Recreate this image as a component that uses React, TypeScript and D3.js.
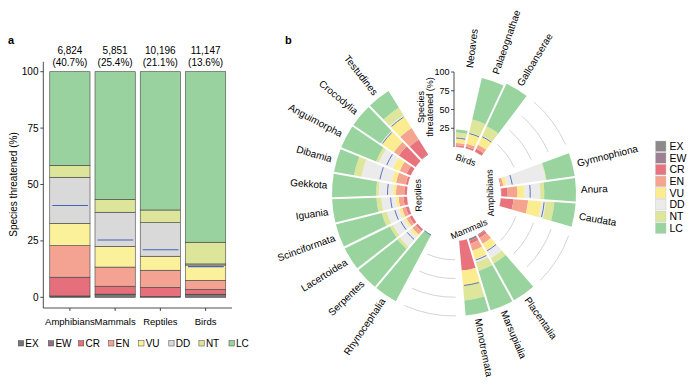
import React from 'react';
import * as d3 from 'd3';

// IUCN categories, inner/bottom first
const statuses = ['EX', 'EW', 'CR', 'EN', 'VU', 'DD', 'NT', 'LC'];
const barColors = ['#767676', '#8e6f86', '#e5707c', '#f4a393', '#fbf19b', '#d9d9d9', '#dde59a', '#99d19f'];
const ringColors = ['#8d8889', '#9d8193', '#e8737d', '#f5a58f', '#fcec90', '#ebebeb', '#dee69c', '#99d49f'];

// panel a
const classes = ['Amphibians', 'Mammals', 'Reptiles', 'Birds'];
const classTotals = ['6,824', '5,851', '10,196', '11,147'];
const classThreatLabels = ['(40.7%)', '(25.4%)', '(21.1%)', '(13.6%)'];
const classThreat = [40.7, 25.4, 21.1, 13.6];
const classShares = [
  [0.5, 0.1, 8.3, 14, 9.9, 20.4, 5.3, 41.5],
  [1.3, 0.1, 3.5, 8.5, 9.2, 15.1, 5.7, 56.6],
  [0.3, 0.05, 4.05, 7.6, 6.2, 14.9, 5.6, 61.3],
  [1.3, 0.05, 2.15, 4, 6.8, 0.5, 9.6, 75.6],
];
const yTicks = [0, 25, 50, 75, 100];

// panel b, clockwise from the axis
const groups = ['Birds', 'Amphibians', 'Mammals', 'Reptiles'];
const groupClades = [
  ['Neoaves', 'Palaeognathae', 'Galloanserae'],
  ['Gymnophiona', 'Anura', 'Caudata'],
  ['Placentalia', 'Marsupialia', 'Monotremata'],
  ['Rhynocephalia', 'Serpentes', 'Lacertoidea', 'Scinciformata', 'Iguania',
    'Gekkota', 'Dibamia', 'Anguimorpha', 'Crocodylia', 'Testudines'],
];
const birdShares = [
  [0.5, 0, 2, 3, 6.5, 1.5, 6, 4],
  [0.5, 0, 2, 4, 14, 1, 18, 57],
  [0.5, 0, 4, 6, 12, 1, 14, 62.5],
];
const amphibianShares = [
  [0, 0, 1, 3, 4.5, 52.5, 1, 38],
  [0.5, 0, 8.5, 13, 9, 21.4, 5.3, 42.3],
  [0, 0, 17, 19.6, 18, 5.4, 11.6, 28.4],
];
const mammalShares = [
  [1, 0.1, 4, 9, 10, 12, 8, 55.9],
  [3, 0, 4, 10, 12, 4, 12, 55],
  [0, 0, 40, 0, 20, 0, 20, 20],
];
const reptileShares = [
  [0, 0, 0, 0, 0, 0, 0, 100],
  [0.1, 0, 3, 6, 4, 17, 4, 65.9],
  [0.2, 0, 3.8, 4.6, 3, 17, 4.5, 66.9],
  [0.3, 0, 3.7, 5, 4, 17, 7, 63],
  [0.3, 0, 4.5, 6.5, 4, 19, 6.5, 59.2],
  [0.2, 0, 3.5, 11, 4, 19, 3.5, 58.8],
  [0, 0, 3, 13, 6, 41, 10, 27],
  [0, 0, 6, 10, 10, 20, 4, 50],
  [0, 0, 27, 8, 19, 2, 0, 44],
  [1, 0, 23, 18, 18, 2, 12, 26],
];
const birdThreat = [12, 20.5, 22.5];
const amphibianThreat = [16, 39, 58];
const mammalThreat = [25, 30, 60];
const reptileThreat = [0, 18, 17, 19, 22, 26, 38, 35, 54, 60];
const groupShares = [birdShares, amphibianShares, mammalShares, reptileShares];
const groupThreat = [birdThreat, amphibianThreat, mammalThreat, reptileThreat];
const ringTicks = [25, 50, 75, 100];

const font = 'Liberation Sans, Arial, Helvetica, sans-serif';
const rad = Math.PI / 180;

const App = () => {
  // ---- panel a scales
  const x = d3.scaleBand().domain(classes).range([47.5, 228]).paddingInner(0.11).paddingOuter(0.05);
  const y = d3.scaleLinear().domain([0, 100]).range([297.3, 71.7]);

  // ---- panel b layout
  const cx = 454, cy = 194;
  const r = d3.scaleLinear().domain([0, 100]).range([47, 122]);
  const slot = 12, gap = 33, start = 1;
  const arc = d3.arc().padAngle(0.02).padRadius(100);
  const polar = (rr, a) => [cx + rr * Math.sin(a * rad), cy - rr * Math.cos(a * rad)];

  const groupStart = [];
  let acc = start;
  groups.forEach((g, gi) => {
    groupStart.push(acc);
    acc += groupClades[gi].length * slot + gap;
  });

  const ringBars = [];
  groups.forEach((g, gi) => {
    groupClades[gi].forEach((name, i) => {
      const a0 = groupStart[gi] + i * slot;
      ringBars.push({ name, a0, a1: a0 + slot, shares: groupShares[gi][i], threat: groupThreat[gi][i] });
    });
  });

  const arcLine = (rr, a0, a1) => {
    const p = d3.path();
    p.arc(cx, cy, rr, (a0 - 90) * rad, (a1 - 90) * rad);
    return p.toString();
  };

  return (
    <svg width={700} height={386} style={{ position: 'absolute', left: 0, top: 0 }} fontFamily={font}>
      <rect width={700} height={386} fill="#fff" />
      <text x={8} y={43.5} fontSize={11} fontWeight="bold">a</text>
      <text x={285} y={44} fontSize={11} fontWeight="bold">b</text>

      {/* ---------- panel a ---------- */}
      <line x1={43.3} x2={43.3} y1={y(104.4)} y2={308} stroke="#222" strokeWidth={0.8} />
      <line x1={43.3} x2={232} y1={308} y2={308} stroke="#222" strokeWidth={0.8} />
      {yTicks.map(t => (
        <g key={t}>
          <line x1={40.3} x2={43.3} y1={y(t)} y2={y(t)} stroke="#222" strokeWidth={0.8} />
          <text x={38.5} y={y(t)} dy="0.35em" fontSize={10} textAnchor="end">{t}</text>
        </g>
      ))}
      <text transform={`translate(13,${y(50)}) rotate(-90)`} fontSize={10} textAnchor="middle" dy="0.35em">
        Species threatened (%)
      </text>
      {classes.map((c, ci) => {
        let cum = 0;
        const bx = x(c);
        const bw = x.bandwidth();
        return (
          <g key={c}>
            {classShares[ci].map((v, j) => {
              const y0 = y(cum + v), y1 = y(cum);
              cum += v;
              return <rect key={j} x={bx} y={y0} width={bw} height={Math.max(0, y1 - y0)}
                fill={barColors[j]} stroke="#444" strokeWidth={0.6} />;
            })}
            <line x1={bx + 2.5} x2={bx + bw - 2} y1={y(classThreat[ci])} y2={y(classThreat[ci])}
              stroke="#4563b8" strokeWidth={1.1} />
            <line x1={bx + bw / 2} x2={bx + bw / 2} y1={308} y2={311} stroke="#222" strokeWidth={0.8} />
            <text x={bx + bw / 2} y={325} fontSize={9.5} textAnchor="middle">{c}</text>
            <text x={bx + bw / 2} y={54.3} fontSize={10} textAnchor="middle">{classTotals[ci]}</text>
            <text x={bx + bw / 2} y={65.8} fontSize={10} textAnchor="middle">{classThreatLabels[ci]}</text>
          </g>
        );
      })}
      {statuses.map((s, j) => (
        <g key={s} transform={`translate(${18.3 + j * 30.1},340.7)`}>
          <rect width={5.3} height={5.3} fill={barColors[j]} stroke="#444" strokeWidth={0.5} />
          <text x={7} y={6} fontSize={10}>{s}</text>
        </g>
      ))}

      {/* ---------- panel b ---------- */}
      {groups.slice(0, 3).map((g, gi) => {
        const g0 = groupStart[gi] + groupClades[gi].length * slot + 4;
        const g1 = groupStart[gi + 1] - 4;
        return ringTicks.map(t => (
          <path key={g + t} d={arcLine(r(t), g0, g1)} fill="none" stroke="#c9c9c9" strokeWidth={0.8} />
        ));
      })}
      {ringBars.map(b => {
        let cum = 0;
        const [lx, ly] = polar(127, b.a0 + slot / 2);
        const mid = b.a0 + slot / 2;
        const rot = mid < 180 ? mid - 90 : mid - 270;
        return (
          <g key={b.name}>
            {b.shares.map((v, j) => {
              const inner = r(cum), outer = r(cum + v);
              cum += v;
              if (v <= 0) return null;
              return <path key={j} fill={ringColors[j]}
                d={arc({ innerRadius: inner, outerRadius: outer, startAngle: b.a0 * rad, endAngle: b.a1 * rad })}
                transform={`translate(${cx},${cy})`} />;
            })}
            <path d={arcLine(r(b.threat), b.a0 + 1.3, b.a1 - 1.3)} fill="none" stroke="#4a66b8" strokeWidth={0.9} />
            <text transform={`translate(${lx},${ly}) rotate(${rot})`} fontSize={10}
              textAnchor={mid < 180 ? 'start' : 'end'} dy="0.35em">{b.name}</text>
          </g>
        );
      })}
      {groups.map((g, gi) => {
        const mid = groupStart[gi] + (groupClades[gi].length * slot) / 2;
        const [gx, gy] = polar(gi === 2 ? 38 : 36, mid);
        const rot = mid < 45 ? mid : mid < 225 ? mid - 180 : mid - 360;
        return (
          <text key={g} transform={`translate(${gx},${gy}) rotate(${rot})`} fontSize={9}
            textAnchor="middle" dy="0.35em">{g}</text>
        );
      })}
      {/* radial axis */}
      <line x1={cx} x2={cx} y1={cy - r(0)} y2={cy - r(100)} stroke="#222" strokeWidth={0.8} />
      {ringTicks.map(t => (
        <g key={t}>
          <line x1={cx - 3} x2={cx} y1={cy - r(t)} y2={cy - r(t)} stroke="#222" strokeWidth={0.8} />
          <text x={cx - 4.5} y={cy - r(t)} dy="0.35em" fontSize={9} textAnchor="end">{t}</text>
        </g>
      ))}
      <text transform={`translate(421,107) rotate(-90)`} fontSize={9} textAnchor="middle" dy="0.35em">Species</text>
      <text transform={`translate(430,107) rotate(-90)`} fontSize={9} textAnchor="middle" dy="0.35em">threatened (%)</text>

      {/* legend */}
      {statuses.map((s, j) => (
        <g key={s} transform={`translate(655.5,${141 + j * 11.7})`}>
          <rect width={10.5} height={10.5} fill={ringColors[j]} stroke="#c4c4c4" strokeWidth={0.4} />
          <text x={14} y={5.25} dy="0.35em" fontSize={10.5}>{s}</text>
        </g>
      ))}
    </svg>
  );
};

export default App;
